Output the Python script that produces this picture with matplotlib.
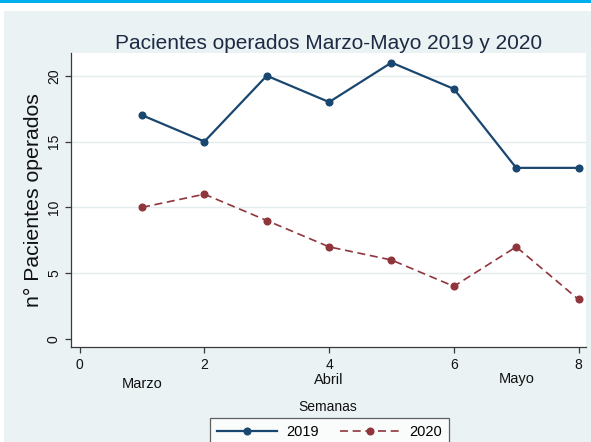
import matplotlib
matplotlib.use("Agg")
import matplotlib.pyplot as plt
from matplotlib.patches import Rectangle
import matplotlib.transforms as mtransforms

plt.rcParams['font.family'] = ['Liberation Sans', 'DejaVu Sans']

# data
semanas = [1, 2, 3, 4, 5, 6, 7, 8]
pacientes_2019 = [17, 15, 20, 18, 21, 19, 13, 13]
pacientes_2020 = [10, 11, 9, 7, 6, 4, 7, 3]
x_ticks = [0, 2, 4, 6, 8]
y_ticks = [0, 5, 10, 15, 20]
meses = ['Marzo', 'Abril', 'Mayo']
meses_pos = [1, 4, 7]

W, H = 591, 442
navy = '#1a476f'
maroon = '#90353b'
bg = '#eaf2f3'

fig = plt.figure(figsize=(W / 100, H / 100), dpi=100)
fig.patch.set_facecolor('white')

# page decoration: cyan bar on top and bluish-grey graph region
fig.patches.append(Rectangle((0, 1 - 3 / H), 1, 3 / H, transform=fig.transFigure,
                             facecolor='#00aeef', edgecolor='none', zorder=-10))
fig.patches.append(Rectangle((4 / W, 0), 1, 1 - 11 / H, transform=fig.transFigure,
                             facecolor=bg, edgecolor='none', zorder=-10))

left, right, top, bottom = 70.7, 586, 52.7, 347
ax = fig.add_axes([left / W, 1 - bottom / H, (right - left) / W, (bottom - top) / H])
ax.set_facecolor('white')

ax.plot(semanas, pacientes_2019, color=navy, lw=1.6, marker='o', ms=4.8, label='2019')
ax.plot(semanas, pacientes_2020, color=maroon, lw=1.2, ls=(0, (4.8, 2.8)),
        marker='o', ms=4.8, label='2020')

ax.set_xlim(-0.144, 8.119)
ax.set_ylim(-0.61, 21.75)
ax.set_xticks(x_ticks)
ax.set_yticks(y_ticks)
for v in y_ticks[1:]:
    ax.axhline(v, color='#e3edef', lw=1.0, zorder=0)

for s in ['top', 'right']:
    ax.spines[s].set_visible(False)
for s in ['left', 'bottom']:
    ax.spines[s].set_color('#3a3a3a')
    ax.spines[s].set_linewidth(0.9)
ax.tick_params(axis='both', length=4, width=0.9, color='#3a3a3a', labelsize=10,
               labelcolor='#111111', pad=4)
ax.tick_params(axis='y', pad=3)
for lbl in ax.get_yticklabels():
    lbl.set_rotation(90)
    lbl.set_va('center')

# month labels below the week ticks
trans = mtransforms.blended_transform_factory(ax.transData, fig.transFigure)
meses_y = [384, 380, 379]
for m, xp, yp in zip(meses, meses_pos, meses_y):
    ax.text(xp, 1 - yp / H, m, transform=trans, ha='center', va='center',
            fontsize=10.5, color='#111111')

fig.text(328 / W, 1 - 407 / H, 'Semanas', ha='center', va='center', fontsize=10,
         color='#111111')
fig.text(33 / W, 1 - 200 / H, 'n° Pacientes operados', rotation=90, ha='center',
         va='center', fontsize=15.3, color='#111111')
fig.text(329 / W, 1 - 49 / H, 'Pacientes operados Marzo-Mayo 2019 y 2020',
         ha='center', va='baseline', fontsize=15, color='#1c2a44')

leg = ax.legend(loc='upper center', bbox_to_anchor=(329.5 / W, 1 - 418 / H),
                bbox_transform=fig.transFigure, ncol=2, frameon=True, fancybox=False,
                fontsize=10.5, handlelength=4.1, handletextpad=0.6, columnspacing=1.5,
                borderpad=0.5, borderaxespad=0)
leg.get_frame().set_edgecolor('#3a3a3a')
leg.get_frame().set_linewidth(0.9)
leg.get_frame().set_facecolor('white')

fig.savefig('out.png', dpi=100, facecolor=fig.get_facecolor())
